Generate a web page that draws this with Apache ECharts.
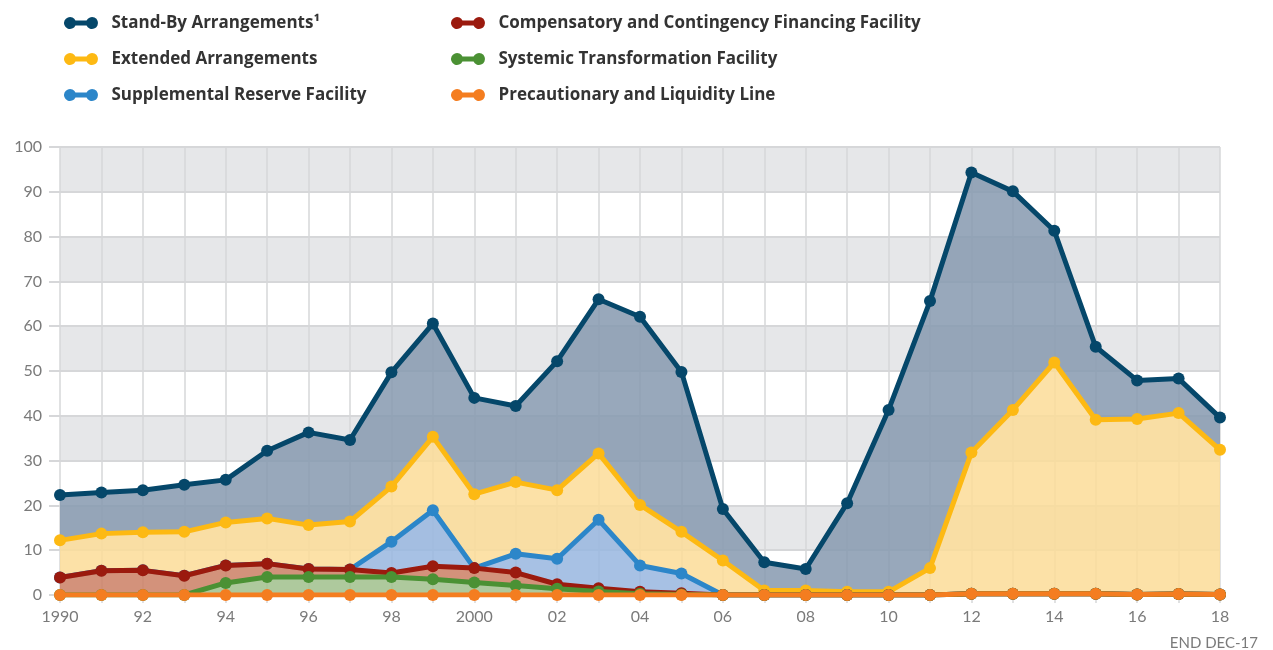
<!DOCTYPE html>
<html>
<head>
<meta charset="utf-8">
<script src="https://cdn.jsdelivr.net/npm/echarts@6/dist/echarts.min.js"></script>
<style>
html,body{margin:0;padding:0;background:#fff;}
#chart{width:1273px;height:650px;}
</style>
</head>
<body>
<div id="chart"></div>
<script>
// Categories (years) and tick labels
const years = ['1990','1991','1992','1993','1994','1995','1996','1997','1998','1999','2000','2001','2002','2003','2004','2005','2006','2007','2008','2009','2010','2011','2012','2013','2014','2015','2016','2017','2018'];
const tickLabels = ['1990','91','92','93','94','95','96','97','98','99','2000','01','02','03','04','05','06','07','08','09','10','11','12','13','14','15','16','17','18'];

// Series values (billions of SDRs, stacked)
const standBy      = [10.1,9.2,9.4,10.5,9.5,15.1,20.7,18.2,25.5,25.3,21.5,17.0,28.8,34.4,42.0,35.7,11.5,6.3,4.8,19.8,40.6,59.6,62.5,48.8,29.4,16.3,8.6,7.7,7.2];
const extended     = [8.3,8.3,8.5,9.8,9.6,10.1,9.8,10.7,12.3,16.4,16.5,16.0,15.3,14.8,13.5,9.3,7.7,1.0,1.0,0.7,0.7,6.0,31.5,41.0,51.6,38.8,39.2,40.4,32.3];
const supplemental = [0,0,0,0,0,0,0,0,7.0,12.5,0,4.2,5.7,15.3,5.9,4.4,0,0,0,0,0,0,0,0,0,0,0,0,0];
const compensatory = [3.9,5.4,5.5,4.3,3.9,3.0,1.8,1.7,0.9,2.9,3.2,2.9,1.0,0.7,0.4,0.3,0,0,0,0,0,0,0,0,0,0,0,0,0];
const systemic     = [0,0,0,0,2.7,4.0,4.0,4.0,4.0,3.5,2.8,2.1,1.4,0.8,0.3,0.1,0,0,0,0,0,0,0,0,0,0,0,0,0];
const precautionary= [0,0,0,0,0,0,0,0,0,0,0,0,0,0,0,0,0,0,0,0,0,0,0.3,0.3,0.3,0.3,0.1,0.2,0.1];

const names = {
  sba: 'Stand-By Arrangements\u00B9',
  ea: 'Extended Arrangements',
  srf: 'Supplemental Reserve Facility',
  ccff: 'Compensatory and Contingency Financing Facility',
  stf: 'Systemic Transformation Facility',
  pll: 'Precautionary and Liquidity Line'
};

const chart = echarts.init(document.getElementById('chart'));
const FONT = 'Lato, "Open Sans", sans-serif';
const LFONT = '"Open Sans", Lato, sans-serif';
const icon = 'path://M11.45,3.5L22.55,3.5A6,6,0,1,1,22.55,8.5L11.45,8.5A6,6,0,1,1,11.45,3.5Z';

function mk(name, data, line, area, z) {
  return {
    name: name, type: 'line', stack: 'total', data: data, z: z,
    symbol: 'circle', symbolSize: 12, showSymbol: true,
    lineStyle: {color: line, width: 5},
    itemStyle: {color: line, borderWidth: 0},
    areaStyle: area ? {color: area, opacity: 0.86} : {opacity: 0},
    emphasis: {disabled: true},
    animation: false
  };
}

const legendText = {fontFamily: LFONT, fontSize: 17, fontWeight: 'bold', color: '#333', lineHeight: 20, padding: [0,0,0,8]};
const legendBase = {orient: 'vertical', top: 8, itemWidth: 35, itemHeight: 12, itemGap: 16, icon: icon,
  textStyle: legendText, selectedMode: false, itemStyle: {borderWidth: 0}, lineStyle: {width: 0, opacity: 0}};

chart.setOption({
  animation: false,
  textStyle: {fontFamily: FONT},
  legend: [
    Object.assign({left: 59, data: [names.sba, names.ea, names.srf]}, legendBase),
    Object.assign({left: 446, data: [names.ccff, names.stf, names.pll]}, legendBase)
  ],
  grid: {left: 60, right: 53, top: 147, bottom: 55},
  xAxis: {
    type: 'category', data: years, boundaryGap: false,
    axisLine: {show: false},
    axisTick: {show: true, interval: 0, length: 8, lineStyle: {color: '#d6d7d9', width: 1.5}},
    axisLabel: {interval: 1, color: '#7a7a7a', fontSize: 16, margin: 14,
      formatter: (v, i) => tickLabels[i]},
    splitLine: {show: true, interval: 0, lineStyle: {color: '#d6d7d9', width: 1.5}}
  },
  yAxis: {
    type: 'value', min: 0, max: 100, interval: 10,
    axisLine: {show: false},
    axisTick: {show: true, length: 11, lineStyle: {color: '#d6d7d9', width: 2}},
    axisLabel: {color: '#7a7a7a', fontSize: 16, margin: 18},
    splitLine: {show: true, lineStyle: {color: '#d6d7d9', width: 2}},
    splitArea: {show: true, areaStyle: {color: ['rgba(255,255,255,0)', '#e6e7e9']}}
  },
  graphic: [{type: 'text', right: 15, top: 636, style: {text: 'END DEC-17', fill: '#7a7a7a', font: '15px ' + FONT}}],
  series: [
    mk(names.pll, precautionary, '#f47d20', null, 9),
    mk(names.stf, systemic, '#4b9134', '#a1c08d', 8),
    mk(names.ccff, compensatory, '#9b1a0e', '#cc8065', 7),
    mk(names.srf, supplemental, '#2c86c9', '#99b7e0', 6),
    mk(names.ea, extended, '#fdb913', '#fcdc98', 5),
    mk(names.sba, standBy, '#05476a', '#879ab0', 4)
  ]
});
</script>
</body>
</html>
